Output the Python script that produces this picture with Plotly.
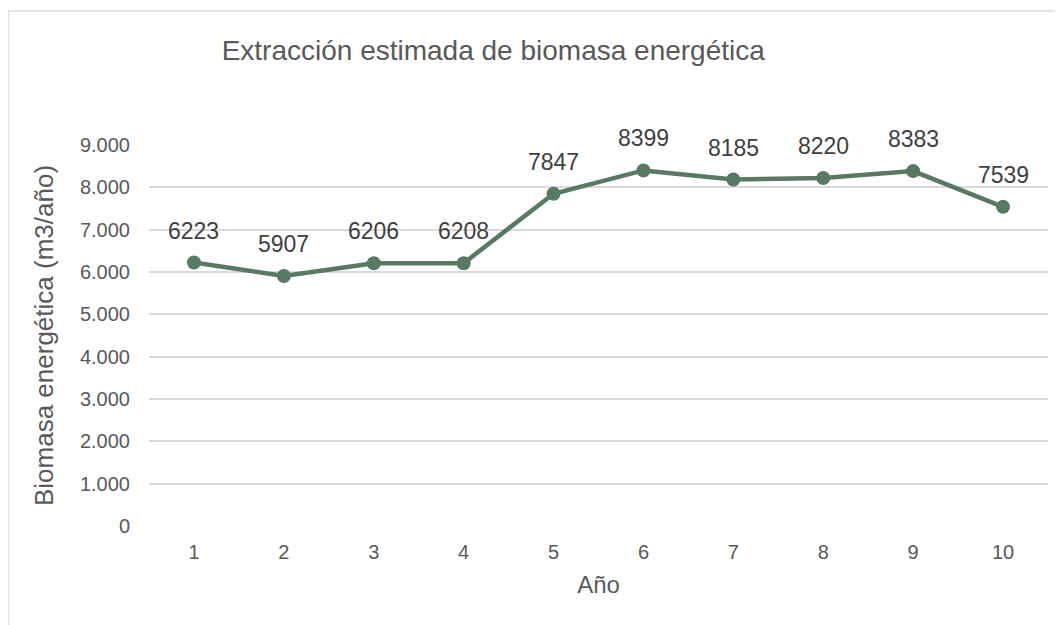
import plotly.graph_objects as go

# Data
years = ["1", "2", "3", "4", "5", "6", "7", "8", "9", "10"]
biomass = [6223, 5907, 6206, 6208, 7847, 8399, 8185, 8220, 8383, 7539]
y_ticks = [0, 1000, 2000, 3000, 4000, 5000, 6000, 7000, 8000, 9000]
y_tick_labels = ["0", "1.000", "2.000", "3.000", "4.000", "5.000", "6.000", "7.000", "8.000", "9.000"]

line_color = "#587a63"
font_family = "Liberation Sans, Arial, sans-serif"

fig = go.Figure(go.Scatter(
    x=years,
    y=biomass,
    mode="lines+markers",
    line={"color": line_color, "width": 4.5},
    marker={"color": line_color, "size": 14},
    showlegend=False,
    hoverinfo="x+y"))

# Value labels above each point (category axis -> use the category index)
for i, y in enumerate(biomass):
    fig.add_annotation(
        x=i, y=y, text=str(y), showarrow=False,
        yanchor="middle", yshift=32,
        font={"size": 23, "color": "#404040", "family": font_family})

# Thin grey frame around the chart area (as in the original export)
fig.add_shape(type="rect", xref="paper", yref="paper",
              x0=-0.1568, x1=1.05, y0=-0.35, y1=1.3517,
              line={"color": "#d9d9d9", "width": 1.5}, layer="below")

# margins account for the page's default 8px body margin
fig.update_layout(
    width=1063, height=625,
    margin={"l": 141, "r": 23, "t": 137, "b": 107},
    paper_bgcolor="white",
    plot_bgcolor="white",
    font={"family": font_family, "color": "#595959"},
    title={"text": "Extracción estimada de biomasa energética",
           "x": 0.4565, "xanchor": "center",
           "y": 0.933, "yanchor": "middle",
           "font": {"size": 28, "color": "#595959"}},
    xaxis={"type": "category", "automargin": False,
           "range": [-0.5, len(years) - 0.5],
           "showgrid": False, "zeroline": False, "showline": False,
           "tickfont": {"size": 20, "color": "#595959"},
           "ticklabelstandoff": 12,
           "title": {"text": "Año", "standoff": 14,
                     "font": {"size": 24, "color": "#595959"}}},
    yaxis={"range": [0, 9000], "automargin": False,
           "tickvals": y_ticks, "ticktext": y_tick_labels,
           "showgrid": True, "gridcolor": "#d9d9d9", "gridwidth": 1.5,
           "zeroline": False, "showline": False,
           "tickfont": {"size": 20, "color": "#595959"},
           "ticklabelstandoff": 18,
           "title": {"text": "Biomasa energética (m3/año)", "standoff": 18,
                     "font": {"size": 26, "color": "#595959"}}},
)

fig.write_html("out.html")
